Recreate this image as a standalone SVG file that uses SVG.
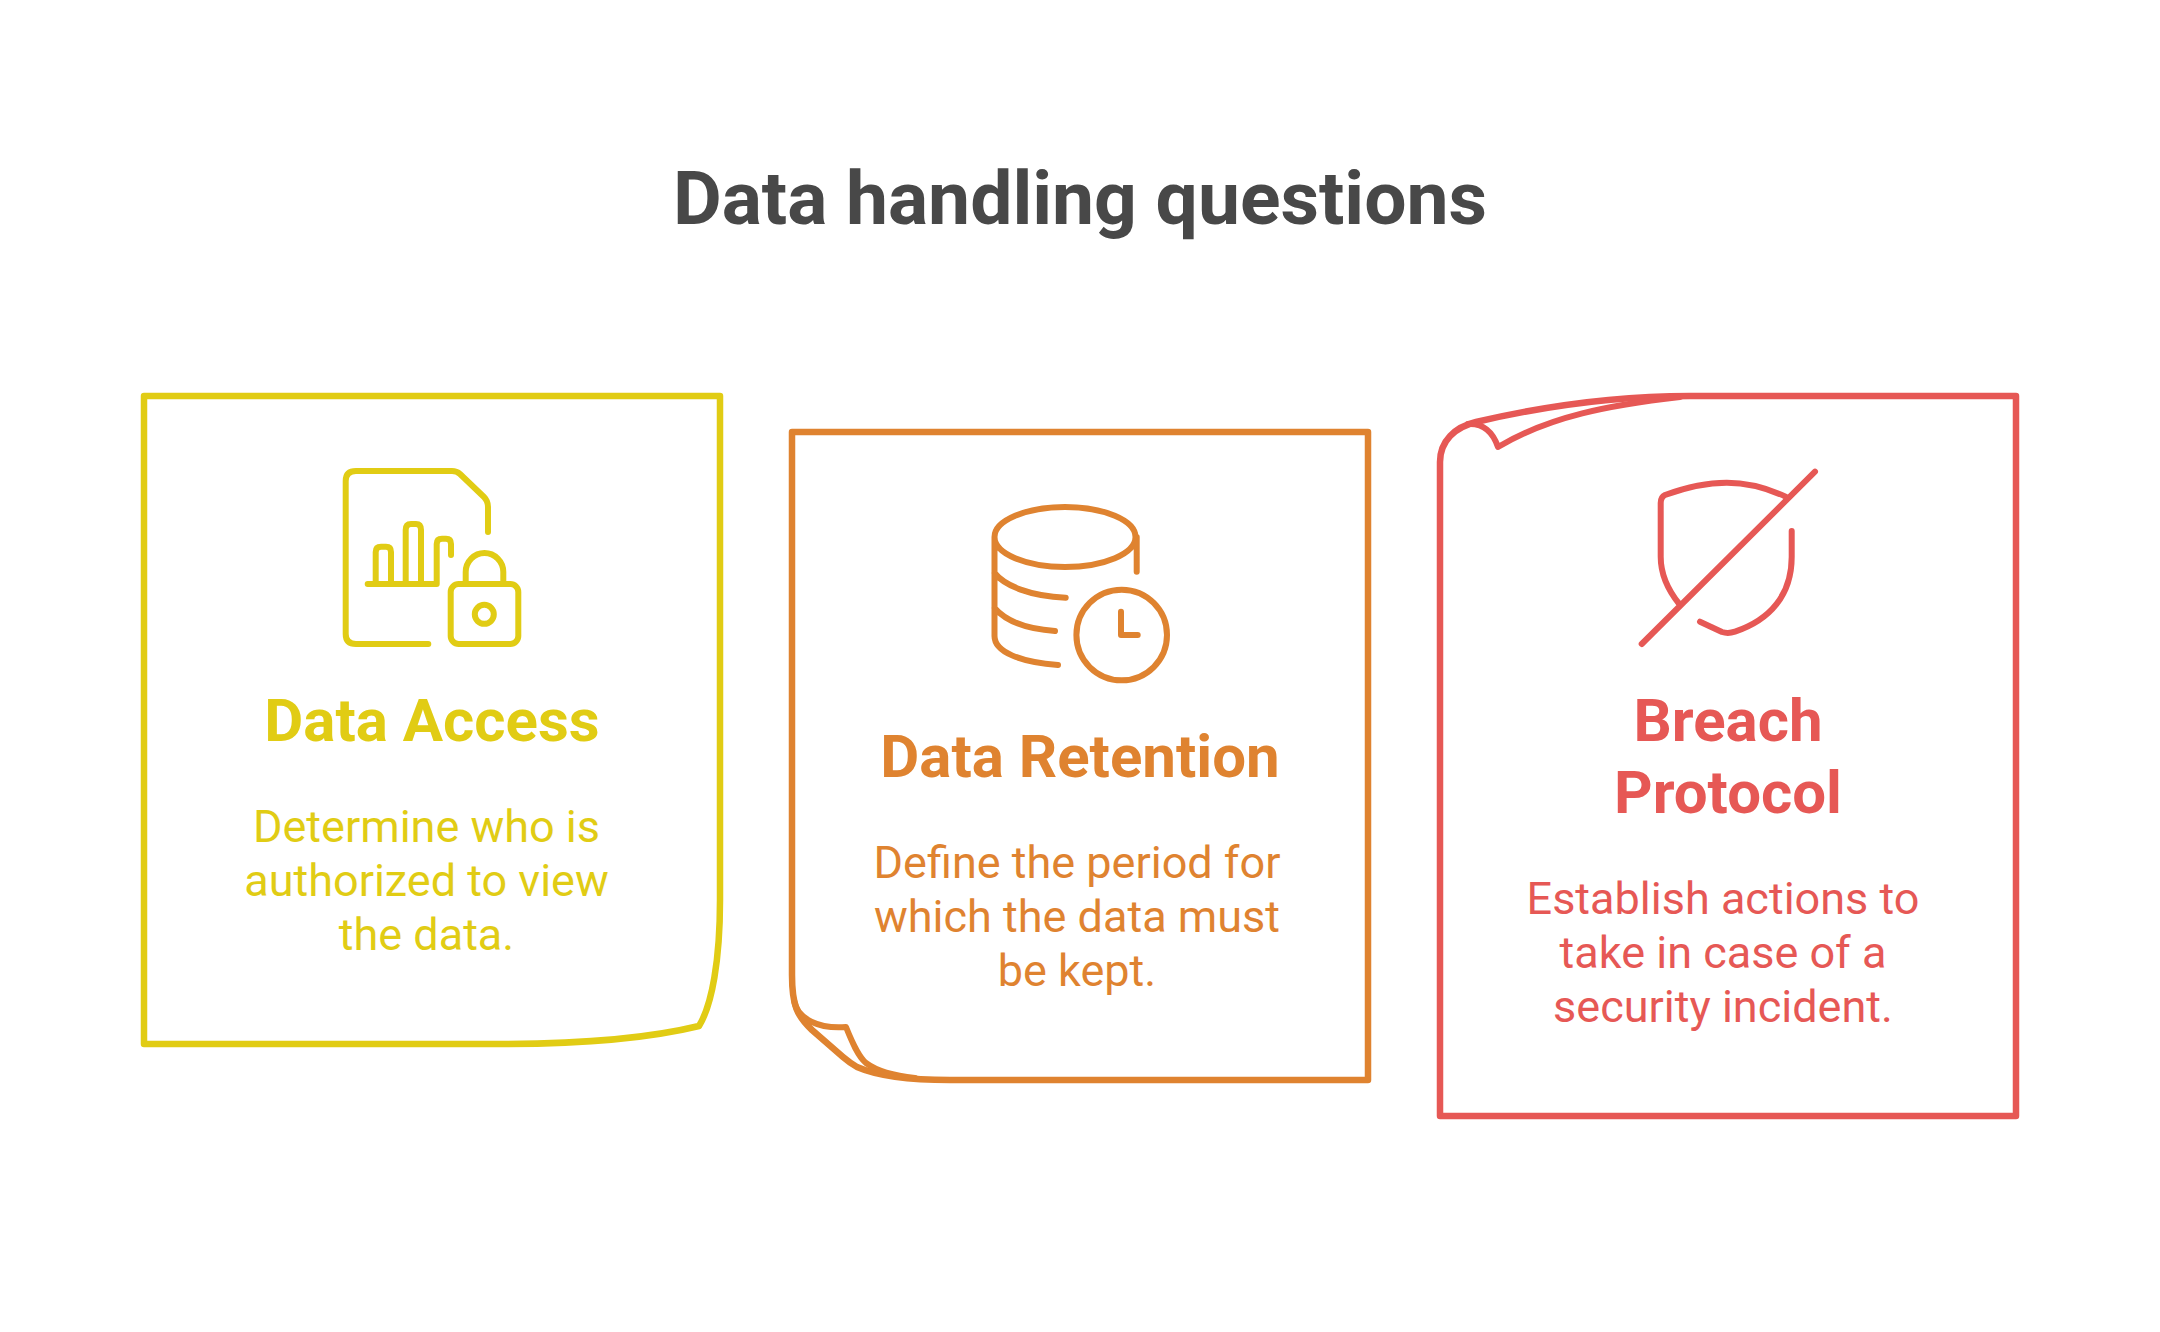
<svg xmlns="http://www.w3.org/2000/svg" width="2160" height="1332" viewBox="0 0 2160 1332">
<style>
text{font-family:Roboto,"Liberation Sans",sans-serif;text-anchor:middle}
.t{font-size:75px;font-weight:700;fill:#484848}
.h{font-size:60px;font-weight:700}
.d{font-size:45px;font-weight:400}
.o{fill:none;stroke-width:6.5;stroke-linejoin:round;stroke-linecap:round}
.i{fill:none;stroke-width:6;stroke-linejoin:round;stroke-linecap:round}
.y{stroke:#E1CC14}.yf{fill:#E1CC14}
.r{stroke:#DF8330}.rf{fill:#DF8330}
.s{stroke:#E65855}.sf{fill:#E65855}
</style>
<rect width="2160" height="1332" fill="#fff"/>
<text class="t" x="1080" y="224">Data handling questions</text>
<g id="node-access">
<path class="o y" d="M144 396H720V900C720 960 712 1005 699 1026C650 1038 590 1044 500 1044H144Z"/>
<path class="i y" d="M428.3 644H356Q345.7 644 345.7 634V481Q345.7 471 356 471H452Q456.7 471 460 474L484 497Q488 501 488 507V532"/>
<path class="i y" d="M367.7 584H436.7V544Q436.7 538.7 442 538.7H446Q451 538.7 451 544V555M375.7 584V552Q375.7 546.7 381 546.7H386Q391 546.7 391 552V584M405.7 584V530Q405.7 524 411 524H416Q421 524 421 530V584"/>
<rect class="i y" x="450.7" y="584" width="67.6" height="60" rx="8"/>
<path class="i y" d="M465.7 584V572A18.8 19 0 0 1 503.3 572V584"/>
<circle class="i y" cx="484.3" cy="614.3" r="9.5"/>
<text class="h yf" x="432" y="741">Data Access</text>
<text class="d yf" x="426.500" y="842">Determine who is</text>
<text class="d yf" x="426.500" y="896">authorized to view</text>
<text class="d yf" x="426.500" y="950">the data.</text>
</g>
<g id="node-retention">
<path class="o r" d="M792 432H1368V1080H950C915 1080 880 1077 857 1067Q850 1063 843 1057L812 1030C797 1016 792 1005 792 975Z"/>
<path class="i r" d="M794 1000C797 1020 820 1029 846 1027C852 1042 858 1056 866 1063C878 1072 895 1076 915 1078"/>
<path class="i r" d="M1135.5 537A70.5 30 0 1 1 994.5 537A70.5 30 0 1 1 1135.5 537ZM994.5 537V636C994.5 652 1020 662 1058 665M1136.7 537V571.7M994.5 573C1005 586 1030 596 1065.7 597.7M994.5 608C1005 620 1025 629 1055 631"/>
<circle class="i r" cx="1121.7" cy="635" r="45.3"/>
<path class="i r" d="M1121 611.7V635H1137.7"/>
<text class="h rf" x="1080" y="777">Data Retention</text>
<text class="d rf" x="1077" y="878">Define the period for</text>
<text class="d rf" x="1077" y="932">which the data must</text>
<text class="d rf" x="1077" y="986">be kept.</text>
</g>
<g id="node-breach">
<path class="o s" d="M2016 396V1116H1440V462C1440 441 1455 427 1476 422C1540 407 1610 396 1690 396Z"/>
<path class="i s" d="M1468 424C1483 423 1493 432 1498 447C1550 416 1610 405 1680 397"/>
<path class="i s" d="M1815 471.7L1641.7 644M1785.7 496.700C1745 478 1710 479 1665 495Q1660.7 497 1660.7 503V556.7C1660.7 575 1668 590 1679.3 604M1791.7 531V557C1791.7 595 1770 620 1735 631.7Q1728 634 1722 632L1700 621.7"/>
<text class="h sf" x="1728" y="741">Breach</text>
<text class="h sf" x="1728" y="813">Protocol</text>
<text class="d sf" x="1723" y="914">Establish actions to</text>
<text class="d sf" x="1723" y="968">take in case of a</text>
<text class="d sf" x="1723" y="1022">security incident.</text>
</g>
</svg>
